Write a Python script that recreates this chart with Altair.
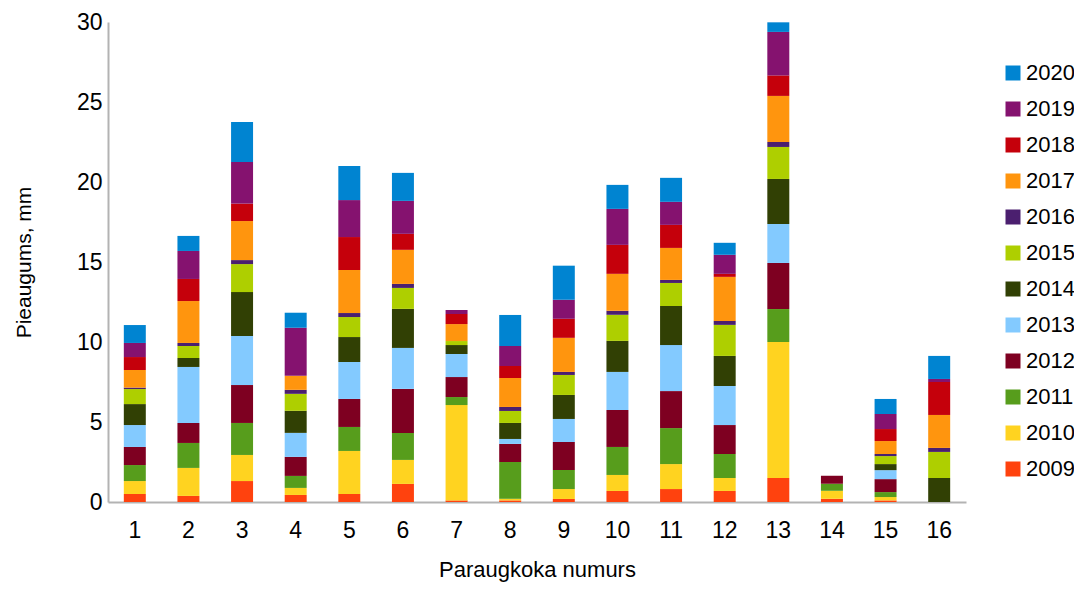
import altair as alt
import pandas as pd

categories = [str(i) for i in range(1, 17)]
years = ["2009", "2010", "2011", "2012", "2013", "2014", "2015", "2016", "2017", "2018", "2019", "2020"]
colors = ["#FF420E", "#FFD320", "#579D1C", "#7E0021", "#83CAFF", "#314004",
          "#AECF00", "#4B1F6F", "#FF950E", "#C5000B", "#85126F", "#0084D1"]

y2009 = [0.5, 0.38, 1.31, 0.44, 0.5, 1.13, 0.1, 0.1, 0.19, 0.69, 0.81, 0.69, 1.5, 0.2, 0.1, 0]
y2010 = [0.81, 1.75, 1.63, 0.44, 2.69, 1.5, 5.96, 0.1, 0.62, 1.0, 1.56, 0.81, 8.5, 0.5, 0.21, 0]
y2011 = [1.0, 1.56, 2.0, 0.75, 1.5, 1.69, 0.5, 2.3, 1.19, 1.75, 2.25, 1.5, 2.06, 0.44, 0.31, 0]
y2012 = [1.13, 1.25, 2.37, 1.19, 1.75, 2.75, 1.25, 1.13, 1.75, 2.31, 2.31, 1.81, 2.88, 0.5, 0.81, 0]
y2013 = [1.37, 3.5, 3.06, 1.5, 2.31, 2.56, 1.44, 0.31, 1.44, 2.38, 2.88, 2.44, 2.44, 0, 0.56, 0]
y2014 = [1.31, 0.56, 2.75, 1.38, 1.56, 2.44, 0.56, 1.0, 1.5, 1.94, 2.44, 1.88, 2.81, 0, 0.38, 1.5]
y2015 = [0.94, 0.75, 1.75, 1.06, 1.25, 1.31, 0.25, 0.75, 1.25, 1.63, 1.44, 1.94, 2.0, 0, 0.5, 1.63]
y2016 = [0.09, 0.19, 0.25, 0.25, 0.25, 0.25, 0, 0.25, 0.19, 0.25, 0.19, 0.25, 0.31, 0, 0.13, 0.25]
y2017 = [1.1, 2.62, 2.44, 0.88, 2.69, 2.13, 1.06, 1.81, 2.13, 2.31, 2.0, 2.75, 2.88, 0, 0.81, 2.06]
y2018 = [0.81, 1.38, 1.09, 0, 2.06, 1.0, 0.63, 0.75, 1.19, 1.81, 1.44, 0.19, 1.28, 0, 0.75, 2.06]
y2019 = [0.88, 1.75, 2.6, 3.0, 2.31, 2.06, 0.25, 1.25, 1.19, 2.25, 1.44, 1.19, 2.72, 0, 0.94, 0.19]
y2020 = [1.12, 0.94, 2.5, 0.94, 2.13, 1.75, 0, 1.94, 2.13, 1.5, 1.5, 0.75, 0.6, 0, 0.94, 1.44]

series = [y2009, y2010, y2011, y2012, y2013, y2014, y2015, y2016, y2017, y2018, y2019, y2020]

rows = []
for i, (yr, vals) in enumerate(zip(years, series)):
    for c, v in zip(categories, vals):
        rows.append({"cat": c, "year": yr, "yidx": i, "value": v})
df = pd.DataFrame(rows)

FONT = "Liberation Sans"

chart = alt.Chart(df).mark_bar().encode(
    x=alt.X("cat:N", sort=categories,
            scale=alt.Scale(paddingInner=0.59, paddingOuter=0.295),
            axis=alt.Axis(title="Paraugkoka numurs", labelAngle=0, ticks=False,
                          labelPadding=17, titlePadding=17)),
    y=alt.Y("value:Q", stack="zero",
            scale=alt.Scale(domain=[0, 30], nice=False),
            axis=alt.Axis(title="Pieaugums, mm", values=[0, 5, 10, 15, 20, 25, 30],
                          grid=False, ticks=False, labelPadding=6, titlePadding=42,
                          titleFontSize=21)),
    color=alt.Color("year:N",
                    scale=alt.Scale(domain=years[::-1], range=colors[::-1]),
                    legend=alt.Legend(title=None, orient="none", legendX=894, legendY=40,
                                      symbolType="square", symbolSize=225, symbolStrokeWidth=0,
                                      labelFontSize=22, labelFont=FONT, labelColor="#000000",
                                      rowPadding=14, labelOffset=2, padding=0)),
    order=alt.Order("yidx:Q", sort="ascending"),
).properties(
    width=858, height=480,
    background="white",
    autosize=alt.AutoSizeParams(type="none"),
    padding={"left": 100, "top": 14, "right": 108, "bottom": 82},
).configure_view(
    stroke=None
).configure_axis(
    domainColor="#b3b3b3", domainWidth=2,
    labelFont=FONT, labelFontSize=23, labelColor="#000000",
    titleFont=FONT, titleFontSize=22, titleColor="#000000", titleFontWeight="normal",
)

chart.save("out.html", embed_options={"renderer": "svg", "actions": False})
